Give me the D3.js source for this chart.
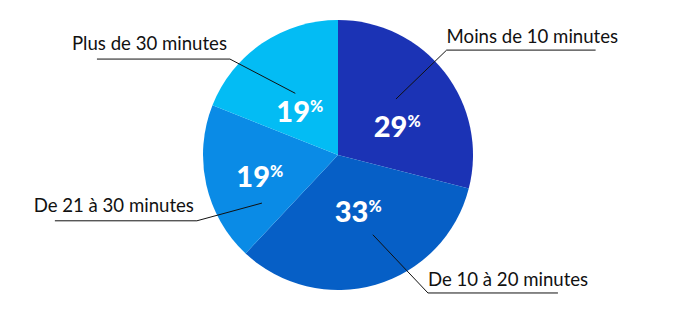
<!DOCTYPE html>
<html><head><meta charset="utf-8">
<script src="https://cdn.jsdelivr.net/npm/d3@7"></script>
<style>
html,body{margin:0;padding:0;background:#fff;}
svg{display:block;}
</style></head>
<body>
<svg id="chart" width="680" height="316"></svg>
<script>
const categories = ["Moins de 10 minutes", "De 10 à 20 minutes", "De 21 à 30 minutes", "Plus de 30 minutes"];
const values = [29, 33, 19, 19];
const colors = ["#1b33b5", "#065fc6", "#0a8be6", "#03bcf4"];

// layout (annotation geometry, degrees relative to slice mid-angle, radii in px)
const pctAngleShift = [11.6, -3.5, -2.4, -7];
const pctRadius = [66, 60, 81, 58];
const leaderInner = [[-6.2, 80.6], [-7.4, 87], [-19.7, 90], [-0.5, 75]];
const leaderElbowAbs = [[46, 151], [146.9, 164.7], [245, 155.7], [311.6, 144.5]];
const leaderLen = [149, 130, 142, 133];
const labelBaseline = [-7, -7, -9, -9];

const W = 680, H = 316, cx = 338, cy = 155, R = 135;
const svg = d3.select("#chart");
const g = svg.append("g").attr("transform", `translate(${cx},${cy})`);

const data = categories.map((c, i) => ({cat: c, value: values[i], i}));
const pie = d3.pie().sort(null).value(d => d.value);
const arcs = pie(data);
const arc = d3.arc().innerRadius(0).outerRadius(R);
const rad = Math.PI / 180;
const polar = (a, r) => [r * Math.sin(a), -r * Math.cos(a)];

g.selectAll("path.slice").data(arcs).join("path")
  .attr("class", "slice")
  .attr("d", arc)
  .attr("fill", (d, i) => colors[i]);

// leader lines + labels
arcs.forEach((d, i) => {
  const mid = (d.startAngle + d.endAngle) / 2;
  const p0 = polar(mid + leaderInner[i][0] * rad, leaderInner[i][1]);
  const p1 = polar(leaderElbowAbs[i][0] * rad, leaderElbowAbs[i][1]);
  const right = p1[0] > 0;
  const p2 = [p1[0] + (right ? 1 : -1) * leaderLen[i], p1[1]];
  g.append("path")
    .attr("d", d3.line()([p0, p1, p2]))
    .attr("fill", "none").attr("stroke", "#111").attr("stroke-width", 1);
  g.append("text")
    .attr("x", right ? p1[0] + 0 : p1[0] - 3)
    .attr("y", p1[1] + labelBaseline[i])
    .attr("text-anchor", right ? "start" : "end")
    .attr("font-family", "Lato, sans-serif")
    .attr("font-size", 18.6)
    .attr("fill", "#111")
    .text(d.data.cat);
});

// percentage labels
arcs.forEach((d, i) => {
  const mid = (d.startAngle + d.endAngle) / 2;
  const p = polar(mid + pctAngleShift[i] * rad, pctRadius[i]);
  const t = g.append("text")
    .attr("x", p[0]).attr("y", p[1] + 11)
    .attr("text-anchor", "middle")
    .attr("font-family", "Lato, sans-serif")
    .attr("font-weight", 900)
    .attr("fill", "#fff");
  t.append("tspan").attr("font-size", 29).text(d.data.value);
  t.append("tspan").attr("font-size", 16).attr("dy", -10).text("%");
});
</script>
</body></html>
